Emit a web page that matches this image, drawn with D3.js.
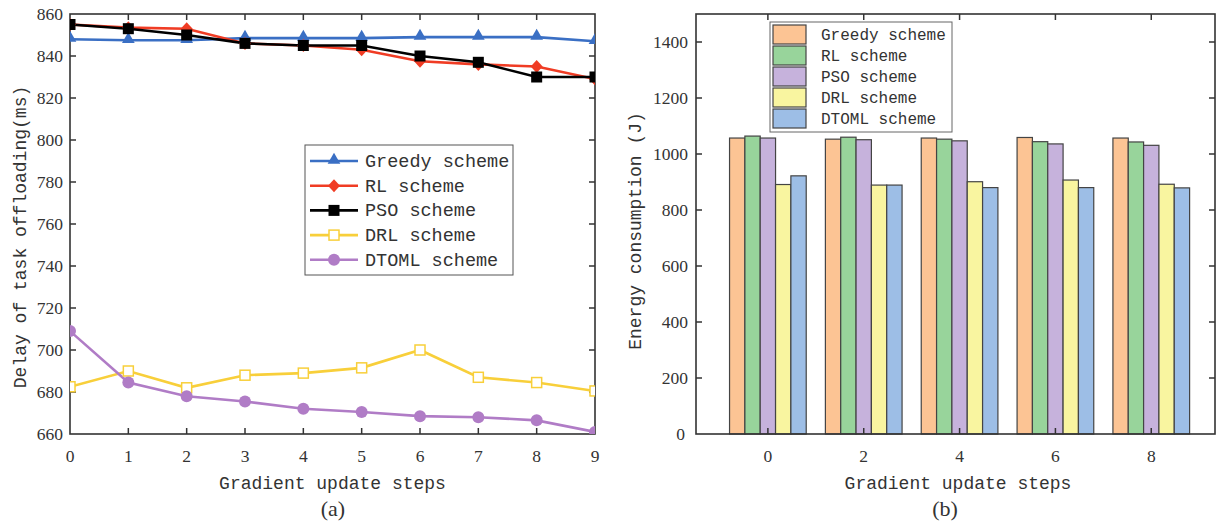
<!DOCTYPE html>
<html>
<head>
<meta charset="utf-8">
<script src="https://cdn.jsdelivr.net/npm/d3@7"></script>
<style>
  body { margin: 0; background: #fff; }
  text { fill: #333; }
  .tick-num { font: 17.5px "Liberation Serif", serif; }
  .lab { font: 18px "Liberation Mono", monospace; }
</style>
</head>
<body>
<div id="chart"></div>
<script>
// left chart: delay (ms) per gradient update step
var steps = [0, 1, 2, 3, 4, 5, 6, 7, 8, 9];
var schemes = ["Greedy scheme", "RL scheme", "PSO scheme", "DRL scheme", "DTOML scheme"];
var greedyDelay = [848, 847.5, 847.5, 848.5, 848.5, 848.5, 849, 849, 849, 847];
var rlDelay = [855, 853.5, 853, 846, 845, 843, 837.5, 836, 835, 829];
var psoDelay = [855, 853, 850, 846, 845, 845, 840, 837, 830, 830];
var drlDelay = [682.5, 690, 682, 688, 689, 691.5, 700, 687, 684.5, 680.5];
var dtomlDelay = [709, 684.5, 678, 675.5, 672, 670.5, 668.5, 668, 666.5, 661];
var delayTicks = [660, 680, 700, 720, 740, 760, 780, 800, 820, 840, 860];

// right chart: energy (J)
var barSteps = [0, 2, 4, 6, 8];
var greedyEnergy = [1057, 1053, 1057, 1059, 1057];
var rlEnergy = [1064, 1060, 1053, 1044, 1043];
var psoEnergy = [1057, 1051, 1047, 1036, 1031];
var drlEnergy = [891, 889, 901, 907, 892];
var dtomlEnergy = [922, 889, 880, 880, 879];
var energyTicks = [0, 200, 400, 600, 800, 1000, 1200, 1400];

var lineColors = ["#3a6fc4", "#f03c24", "#000000", "#f8cf3a", "#b07cc6"];
var markers = ["triangle", "diamond", "square", "squareOpen", "circle"];
var barColors = ["#fcc494", "#98d49b", "#c6b2dc", "#f9f5a0", "#9dbee6"];

var svg = d3.select("#chart").append("svg")
    .attr("width", 1220)
    .attr("height", 522);

// ---------- (a) ----------
var a = {left: 70, right: 595, top: 14, bottom: 434};

var x = d3.scaleLinear().domain([0, 9]).range([a.left, a.right]);
var y = d3.scaleLinear().domain([660, 860]).range([a.bottom, a.top]);

var ga = svg.append("g");

ga.append("rect")
    .attr("x", a.left).attr("y", a.top)
    .attr("width", a.right - a.left).attr("height", a.bottom - a.top)
    .attr("fill", "none").attr("stroke", "#333").attr("stroke-width", 1.6);

function inTicks(g, scale, vals, axisPos, dir, len) {
  // dir: "x" for horizontal axes, "y" for vertical
  g.selectAll(null).data(vals).enter().append("line")
      .attr("x1", d => dir == "x" ? scale(d) : axisPos)
      .attr("x2", d => dir == "x" ? scale(d) : axisPos + len)
      .attr("y1", d => dir == "x" ? axisPos : scale(d))
      .attr("y2", d => dir == "x" ? axisPos + len : scale(d))
      .attr("stroke", "#333").attr("stroke-width", 1.5);
}

inTicks(ga, x, steps.slice(1, 9), a.bottom, "x", -6);
inTicks(ga, x, steps.slice(1, 9), a.top, "x", 6);
inTicks(ga, y, delayTicks.slice(1, 10), a.left, "y", 6);
inTicks(ga, y, delayTicks.slice(1, 10), a.right, "y", -6);

ga.selectAll(".xl").data(steps).enter().append("text")
    .attr("class", "tick-num")
    .attr("x", d => x(d)).attr("y", a.bottom + 28)
    .attr("text-anchor", "middle")
    .text(d => d);

ga.selectAll(".yl").data(delayTicks).enter().append("text")
    .attr("class", "tick-num")
    .attr("x", a.left - 7).attr("y", d => y(d) + 6)
    .attr("text-anchor", "end")
    .text(d => d);

var delaySeries = [greedyDelay, rlDelay, psoDelay, drlDelay, dtomlDelay];

var line = d3.line().x((d, i) => x(steps[i])).y(d => y(d));

ga.append("clipPath").attr("id", "clipA")
  .append("rect")
    .attr("x", a.left).attr("y", a.top)
    .attr("width", a.right - a.left).attr("height", a.bottom - a.top);

function drawMarker(g, kind, color, cx, cy) {
  if (kind == "triangle") {
    g.append("path").attr("d", d3.symbol(d3.symbolTriangle, 70)())
      .attr("transform", "translate(" + cx + "," + (cy - 1) + ")").attr("fill", color);
  } else if (kind == "diamond") {
    g.append("path").attr("d", "M0,-6.5L6,0L0,6.5L-6,0Z")
      .attr("transform", "translate(" + cx + "," + cy + ")").attr("fill", color);
  } else if (kind == "square") {
    g.append("rect").attr("x", cx - 5.5).attr("y", cy - 5.5)
      .attr("width", 11).attr("height", 11).attr("fill", color);
  } else if (kind == "squareOpen") {
    g.append("rect").attr("x", cx - 5).attr("y", cy - 5)
      .attr("width", 10).attr("height", 10).attr("fill", "#fff")
      .attr("stroke", color).attr("stroke-width", 1.5);
  } else {
    g.append("circle").attr("cx", cx).attr("cy", cy).attr("r", 6).attr("fill", color);
  }
}

var series = ga.append("g").attr("clip-path", "url(#clipA)");

delaySeries.forEach(function(vals, k) {
  series.append("path")
      .attr("d", line(vals))
      .attr("fill", "none")
      .attr("stroke", lineColors[k])
      .attr("stroke-width", 2.6);
});
delaySeries.forEach(function(vals, k) {
  vals.forEach(function(v, i) {
    drawMarker(series, markers[k], lineColors[k], x(steps[i]), y(v));
  });
});

// legend (a)
var la = ga.append("g").attr("transform", "translate(305,145)");
la.append("rect").attr("width", 208).attr("height", 130)
    .attr("fill", "#fff").attr("stroke", "#555").attr("stroke-width", 1);
schemes.forEach(function(s, k) {
  var yy = 16 + k * 24.7;
  la.append("line").attr("x1", 5).attr("x2", 53).attr("y1", yy).attr("y2", yy)
      .attr("stroke", lineColors[k]).attr("stroke-width", 2.6);
  drawMarker(la, markers[k], lineColors[k], 29, yy);
  la.append("text").attr("class", "lab")
      .style("font-size", "18.5px")
      .attr("x", 60).attr("y", yy + 6)
      .text(s);
});

ga.append("text").attr("class", "lab")
    .attr("x", (a.left + a.right) / 2).attr("y", 489)
    .attr("text-anchor", "middle")
    .text("Gradient update steps");

ga.append("text").attr("class", "lab")
    .attr("transform", "translate(26," + ((a.top + a.bottom) / 2 + 13) + ") rotate(-90)")
    .attr("text-anchor", "middle")
    .text("Delay of task offloading(ms)");

ga.append("text")
    .attr("x", 333).attr("y", 516)
    .attr("text-anchor", "middle")
    .style("font", "22px 'Liberation Serif', serif")
    .text("(a)");

// ---------- (b) ----------
var b = {left: 696, right: 1215, top: 14, bottom: 434};

var xb = d3.scaleLinear().domain([-1.5, 9.33]).range([b.left, b.right]);
var yb = d3.scaleLinear().domain([0, 1500]).range([b.bottom, b.top]);

var gb = svg.append("g");

var energySeries = [greedyEnergy, rlEnergy, psoEnergy, drlEnergy, dtomlEnergy];
var barW = xb(0.32) - xb(0);

barSteps.forEach(function(st, i) {
  energySeries.forEach(function(vals, k) {
    gb.append("rect")
        .attr("x", xb(st) + (k - 2.5) * barW)
        .attr("y", yb(vals[i]))
        .attr("width", barW)
        .attr("height", yb(0) - yb(vals[i]))
        .attr("fill", barColors[k])
        .attr("stroke", "#444")
        .attr("stroke-width", 1.2);
  });
});

gb.append("rect")
    .attr("x", b.left).attr("y", b.top)
    .attr("width", b.right - b.left).attr("height", b.bottom - b.top)
    .attr("fill", "none").attr("stroke", "#333").attr("stroke-width", 1.6);

inTicks(gb, xb, barSteps, b.bottom, "x", -6);
inTicks(gb, xb, barSteps, b.top, "x", 6);
inTicks(gb, yb, energyTicks.slice(1), b.left, "y", 6);
inTicks(gb, yb, energyTicks.slice(1), b.right, "y", -6);

gb.selectAll(".xl").data(barSteps).enter().append("text")
    .attr("class", "tick-num")
    .attr("x", d => xb(d)).attr("y", b.bottom + 28)
    .attr("text-anchor", "middle")
    .text(d => d);

gb.selectAll(".yl").data(energyTicks).enter().append("text")
    .attr("class", "tick-num")
    .attr("x", d => d == 0 ? b.left - 11 : b.left - 8).attr("y", d => yb(d) + 6)
    .attr("text-anchor", "end")
    .text(d => d);

// legend (b)
var lb = gb.append("g").attr("transform", "translate(770,22)");
lb.append("rect").attr("width", 182).attr("height", 110)
    .attr("fill", "#fff").attr("stroke", "#666").attr("stroke-width", 1);
schemes.forEach(function(s, k) {
  var yy = 3 + k * 21;
  lb.append("rect").attr("x", 3).attr("y", yy)
      .attr("width", 33).attr("height", 19)
      .attr("fill", barColors[k]).attr("stroke", "#444").attr("stroke-width", 1.2);
  lb.append("text").attr("class", "lab")
      .style("font-size", "16px")
      .attr("x", 51).attr("y", yy + 15)
      .text(s);
});

gb.append("text").attr("class", "lab")
    .attr("x", 958).attr("y", 489)
    .attr("text-anchor", "middle")
    .text("Gradient update steps");

gb.append("text").attr("class", "lab")
    .attr("transform", "translate(641," + ((b.top + b.bottom) / 2 + 7) + ") rotate(-90)")
    .attr("text-anchor", "middle")
    .text("Energy consumption (J)");

gb.append("text")
    .attr("x", 945).attr("y", 516)
    .attr("text-anchor", "middle")
    .style("font", "22px 'Liberation Serif', serif")
    .text("(b)");
</script>
</body>
</html>
